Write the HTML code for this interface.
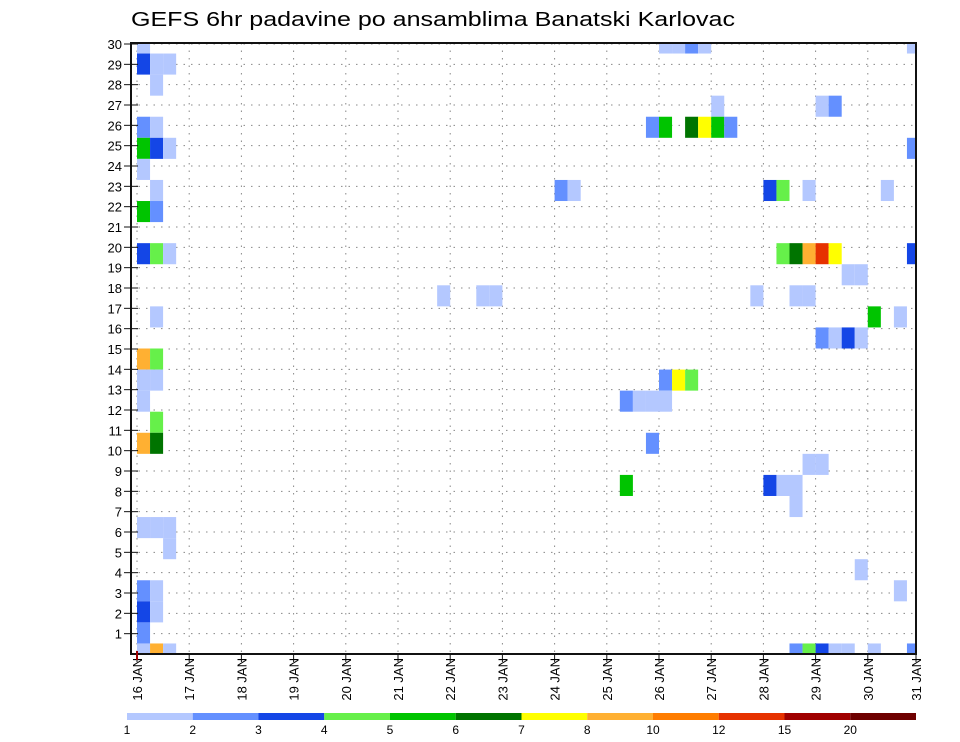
<!DOCTYPE html>
<html><head><meta charset="utf-8"><style>
html,body{margin:0;padding:0;background:#fff;}
svg{display:block;}
text{font-family:"Liberation Sans",sans-serif;fill:#000;}
</style></head><body>
<svg id="chart" width="960" height="742" viewBox="0 0 960 742">
<text x="131" y="26" font-size="20" textLength="604" lengthAdjust="spacingAndGlyphs">GEFS 6hr padavine po ansamblima Banatski Karlovac</text>
<g id="grid"></g>
<g id="cells"></g>
<g id="axes"></g>
<g id="colorbar"></g>
</svg>
<script>
// ---- data ----
const dayLabels = ["16","17","18","19","20","21","22","23","24","25","26","27","28","29","30","31"];
const memberLabels = [1,2,3,4,5,6,7,8,9,10,11,12,13,14,15,16,17,18,19,20,21,22,23,24,25,26,27,28,29,30];
const levelBounds = [1,2,3,4,5,6,7,8,10,12,15,20];
const levelColors = ["#b4c8ff","#6490ff","#1446e6","#66f04a","#00c400","#007400","#ffff00","#ffb032","#ff7d00","#e63200","#a00000","#6e0000"];
// cells: time step (6h index), grid row from top, precipitation value (mm)
const cellStep = [0,0,1,2,1,0,1,0,1,2,0,1,0,1,0,1,2,1,0,1,0,1,0,1,0,1,0,1,2,2,0,1,0,1,0,0,1,2,
23,26,27,
40,41,42,43,59,44,52,53,39,40,42,43,44,45,59,32,33,48,49,51,57,49,50,51,52,53,59,54,55,47,50,51,56,58,52,53,54,55,40,41,42,37,38,39,40,39,51,52,37,48,49,50,50,55,58,50,51,52,53,54,56,59];
const cellRow = [0,1,1,1,2,4,4,5,5,5,6,7,8,8,10,10,10,13,15,15,16,16,17,18,19,19,23,23,23,24,26,26,27,27,28,29,29,29,
12,12,12,
0,0,0,0,0,3,3,3,4,4,4,4,4,4,5,7,7,7,7,7,7,10,10,10,10,10,10,11,11,12,12,12,13,13,14,14,14,14,16,16,16,17,17,17,17,19,20,20,21,21,21,21,22,25,26,29,29,29,29,29,29,29];
const cellValue = [1.5,3.5,1.5,1.5,1.5,2.5,1.5,5.5,3.5,1.5,1.5,1.5,5.5,2.5,3.5,4.5,1.5,1.5,9,4.5,1.5,1.5,1.5,4.5,9,6.5,1.5,1.5,1.5,1.5,2.5,1.5,3.5,1.5,2.5,1.5,9,1.5,
1.5,1.5,1.5,
1.5,1.5,2.5,1.5,1.5,1.5,1.5,2.5,2.5,5.5,6.5,7.5,5.5,2.5,2.5,2.5,1.5,3.5,4.5,1.5,1.5,4.5,6.5,9,13,7.5,3.5,1.5,1.5,1.5,1.5,1.5,5.5,1.5,2.5,1.5,3.5,1.5,2.5,7.5,4.5,2.5,1.5,1.5,1.5,2.5,1.5,1.5,5.5,3.5,1.5,1.5,1.5,1.5,1.5,2.5,4.5,3.5,1.5,1.5,1.5,2.5];

// ---- scales ----
const L=131,R=916,T=43,B=654;
const X0=137, DAY=52.2, STEP=DAY/4;
const NROWS=29;
const BAND=(B-T)/NROWS;
function xStep(k){return X0+k*STEP;}
function xDay(d){return Math.min(X0+d*DAY,R);}
function yRow(r){return T+r*BAND;}
function yMember(m){return B-m*(B-T-1)/30;}
function colorFor(v){let c=levelColors[0];for(let i=0;i<levelBounds.length;i++){if(v>=levelBounds[i])c=levelColors[i];}return c;}
const NS="http://www.w3.org/2000/svg";
function mk(tag,attrs,parent){const e=document.createElementNS(NS,tag);for(const k in attrs)e.setAttribute(k,attrs[k]);parent.appendChild(e);return e;}

// grid
const grid=document.getElementById('grid');
memberLabels.forEach(m=>{const y=yMember(m);
 const g=mk('line',{x1:L,x2:R,y1:y,y2:y,stroke:'#888','stroke-width':1,'stroke-dasharray':'1.5,6'},grid);
 
 });
dayLabels.forEach((d,i)=>{const x=xDay(i);
 const g=mk('line',{x1:x,x2:x,y1:T,y2:B,stroke:'#888','stroke-width':1,'stroke-dasharray':'1.5,6'},grid);
 
 });

// cells
const cells=document.getElementById('cells');
for(let i=0;i<cellStep.length;i++){
 const x1=xStep(cellStep[i]), x2=Math.min(xStep(cellStep[i]+1),R);
 const y1=Math.max(yRow(cellRow[i]-0.5),T), y2=Math.min(yRow(cellRow[i]+0.5),B);
 const r=mk('rect',{x:x1,y:y1,width:x2-x1,height:y2-y1,fill:colorFor(cellValue[i])},cells);
 
 
}

// axes
const axes=document.getElementById('axes');
const fr=mk('rect',{x:L,y:T,width:R-L,height:B-T,fill:'none',stroke:'#111','stroke-width':2},axes);


memberLabels.forEach(m=>{const y=yMember(m);
 mk('line',{x1:124,x2:138,y1:y,y2:y,stroke:'#111','stroke-width':1},axes);
 const t=mk('text',{x:122,y:y+5,'font-size':13,'text-anchor':'end'},axes);t.textContent=m;
 
 });
dayLabels.forEach((d,i)=>{const x=xDay(i);
 mk('line',{x1:x,x2:x,y1:B,y2:B+8,stroke:'#111','stroke-width':1},axes);
 const t=mk('text',{x:0,y:0,'font-size':13,'text-anchor':'end',transform:`translate(${x+5},${B+4}) rotate(-90)`},axes);
 t.textContent=d+" JAN";
 
 });
mk('line',{x1:X0,x2:X0,y1:B-3,y2:B+6,stroke:'#a00000','stroke-width':2},axes);

// colorbar
const cb=document.getElementById('colorbar');
const CB0=127, CBW=(916-127)/levelColors.length;
levelColors.forEach((c,i)=>{const r=mk('rect',{x:CB0+i*CBW,y:713,width:CBW,height:7,fill:c},cb);
 
 });
levelBounds.forEach((b,i)=>{const t=mk('text',{x:CB0+i*CBW,y:734,'font-size':12,'text-anchor':'middle'},cb);t.textContent=b;
 
 });
</script>
</body></html>
